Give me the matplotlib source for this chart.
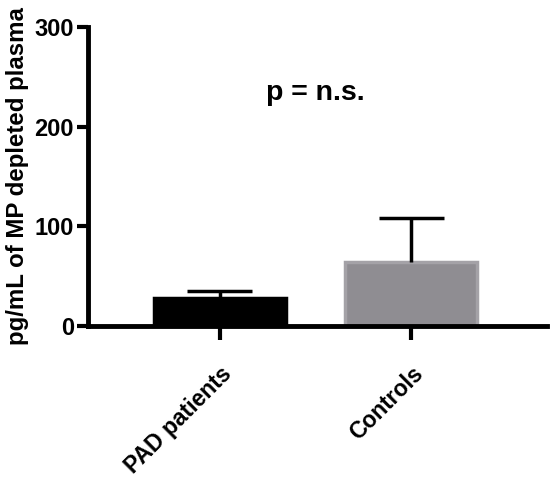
import matplotlib
matplotlib.use("Agg")
import matplotlib.pyplot as plt

categories = ["PAD patients", "Controls"]
means = [28, 64]
errors_upper = [7, 44]
bar_colors = ["#000000", "#8f8d92"]
edge_colors = ["#000000", "#a4a2a7"]
yticks = [0, 100, 200, 300]
annotation = "p = n.s."
ylabel = "pg/mL of MP depleted plasma"

plt.rcParams['font.family'] = ['Liberation Sans', 'DejaVu Sans']
plt.rcParams['font.weight'] = 'bold'

fig = plt.figure(figsize=(5.5, 4.78), dpi=100)
ax = fig.add_axes([0.16, 0.318, 0.835, 0.6255])

x = list(range(len(categories)))
ax.bar(x, means, width=0.6875, color=bar_colors, edgecolor=edge_colors, linewidth=2.5, zorder=2)
tops = [m + e for m, e in zip(means, errors_upper)]
cap_half = 0.17
ax.vlines(x, means, tops, colors='black', linewidth=2.5, zorder=3)
ax.hlines(tops, [xi - cap_half for xi in x], [xi + cap_half for xi in x],
          colors='black', linewidth=2.5, zorder=3)

ax.set_xlim(-0.6875, 1.71)
ax.set_ylim(0, 300)
ax.set_yticks(yticks)
ax.set_xticks(x)
ax.set_xticklabels(categories, rotation=45, ha='right', rotation_mode='anchor', fontsize=16.5, fontweight='bold')
ax.tick_params(axis='y', labelsize=17, width=3, length=8, pad=2)
ax.tick_params(axis='x', width=3, length=10, pad=16)
for lab in ax.get_yticklabels():
    lab.set_fontweight('bold')
ax.set_ylabel(ylabel, fontsize=17.3, fontweight='bold', labelpad=4)
for s in ['top', 'right']:
    ax.spines[s].set_visible(False)
for s in ['left', 'bottom']:
    ax.spines[s].set_linewidth(3.5)

ax.text(0.5, 234, annotation, ha='center', va='center', fontsize=20.5, fontweight='bold')

fig.savefig("out.png", dpi=100)
